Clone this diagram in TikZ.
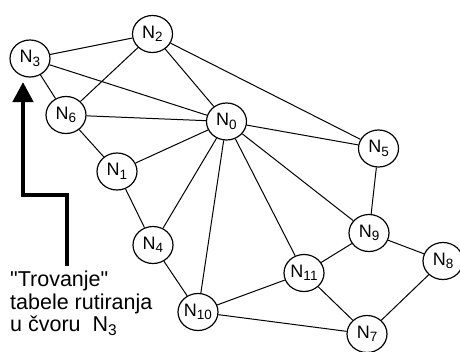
\documentclass[tikz,border=0pt]{standalone}
\usepackage{fontspec}
\setmainfont{Liberation Sans}
\usetikzlibrary{shapes.geometric,arrows.meta}
\newcommand{\Nd}[1]{N\raisebox{-3.5pt}{\fontsize{13.5}{15}\selectfont #1}}
\tikzset{
  nd/.style={ellipse,draw,line width=1.2pt,minimum width=40pt,minimum height=37pt,inner sep=0pt,fill=white,font=\fontsize{18}{20}\selectfont},
  ed/.style={line width=1pt},
  bigarrow/.style={line width=4.5pt,-{Triangle[length=20pt,width=20pt]}}
}
\begin{document}
\begin{tikzpicture}[x=1pt,y=-1pt]
\useasboundingbox (0,0) rectangle (460,351);
\node[nd] (n3) at (30,58.5) {\Nd{3}};
\node[nd] (n2) at (152.5,34) {\Nd{2}};
\node[nd] (n6) at (66,115) {\Nd{6}};
\node[nd] (n0) at (226.5,121.5) {\Nd{0}};
\node[nd] (n5) at (378.5,148.5) {\Nd{5}};
\node[nd] (n1) at (117,171.5) {\Nd{1}};
\node[nd] (n9) at (369,233) {\Nd{9}};
\node[nd] (n4) at (153,245) {\Nd{4}};
\node[nd] (n8) at (443,261) {\Nd{8}};
\node[nd] (n11) at (304,273) {\Nd{11}};
\node[nd] (n10) at (198,312) {\Nd{10}};
\node[nd] (n7) at (367,334) {\Nd{7}};
\foreach \a/\b in {n3/n2,n3/n0,n3/n6,n2/n6,n2/n0,n2/n5,n6/n0,n6/n1,n1/n0,n1/n4,n0/n4,n0/n10,n0/n11,n0/n9,n0/n5,n5/n9,n9/n8,n9/n11,n11/n10,n11/n7,n10/n7,n8/n7,n4/n10}
  \draw[ed] (\a) -- (\b);
\coordinate (as) at (67,266);
\coordinate (at) at (23,82);
\draw[bigarrow] (as) |- (45,195) -| (at);
\node[anchor=base west,align=left,inner sep=0pt,font=\fontsize{21.5}{22.5}\selectfont] (lbl) at (10,331.5)
  {\textquotedbl Trovanje\textquotedbl\\tabele rutiranja\\u čvoru\ \ N\raisebox{-4pt}{\fontsize{15.5}{16}\selectfont 3}};
\end{tikzpicture}
\end{document}
